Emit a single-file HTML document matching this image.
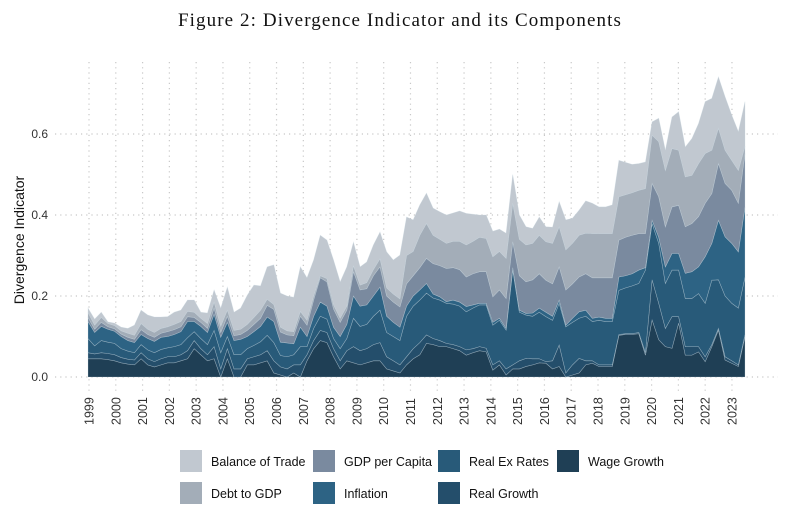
<!DOCTYPE html>
<html><head><meta charset="utf-8"><style>
body{margin:0;background:#fff;width:799px;height:517px;overflow:hidden;font-family:"Liberation Sans",sans-serif;}
</style></head><body>
<svg id="chart" width="799" height="517" xmlns="http://www.w3.org/2000/svg">
<text x="400" y="26" text-anchor="middle" font-family="Liberation Serif, serif" font-size="19" letter-spacing="1.1" fill="#111">Figure 2: Divergence Indicator and its Components</text>
<text transform="translate(24,240) rotate(-90)" text-anchor="middle" font-size="14" fill="#111">Divergence Indicator</text>
<g id="grid"></g><g id="areas"></g><g id="axes"></g><g id="legend"></g>
</svg>
<script>
const years=[1999,2000,2001,2002,2003,2004,2005,2006,2007,2008,2009,2010,2011,2012,2013,2014,2015,2016,2017,2018,2019,2020,2021,2022,2023];
const yTicks=[0,0.2,0.4,0.6];
const yTickLabels=["0.0","0.2","0.4","0.6"];
const seriesNames=["Wage Growth","Real Growth","Real Ex Rates","Inflation","GDP per Capita","Debt to GDP","Balance of Trade"];
const seriesColors=["#1f3f55","#244e6b","#285a79","#2d6384","#7a8a9f","#a3adb8","#c1c8d0"];
const wage=[.045,.045,.045,.043,.04,.035,.032,.03,.045,.03,.025,.03,.035,.035,.04,.045,.07,.055,.04,.045,0,.045,0,0,.03,.03,.035,.04,.01,.005,0,.01,0,.04,.07,.09,.085,.05,.02,.04,.035,.03,.035,.04,.04,.02,.015,.01,.03,.045,.055,.083,.08,.075,.075,.07,.065,.054,.06,.065,.062,.017,.03,.005,.02,.02,.026,.03,.035,.034,.02,.026,0,.005,.01,.03,.034,.026,.026,.026,.103,.105,.105,.107,.054,.141,.092,.075,.071,.133,.054,.054,.062,.038,.075,.116,.042,.034,.026,.10];
const realGrowth=[.015,.012,.015,.015,.015,.013,.012,.012,.015,.015,.013,.015,.015,.015,.015,.02,.02,.015,.015,.03,.02,.025,.02,.02,.015,.02,.02,.025,.03,.02,.02,.02,.03,.015,.02,.025,.025,.02,.02,.025,.04,.035,.035,.04,.045,.03,.025,.02,.02,.025,.03,.021,.015,.015,.008,.01,.01,.013,.01,.01,.009,.013,.01,.015,.01,.02,.02,.015,.01,.004,.02,.053,.01,.025,.036,.01,.006,.004,.004,.004,.002,.002,.002,.003,.006,.099,.09,.045,.078,.016,.021,.021,.013,.012,.005,.004,.008,.006,.004,.005];
const realExRates=[.035,.02,.03,.028,.028,.022,.02,.018,.02,.022,.022,.023,.022,.025,.025,.032,.022,.025,.025,.04,.04,.03,.035,.035,.025,.028,.032,.038,.045,.028,.03,.025,.045,.02,.03,.035,.033,.025,.03,.03,.07,.06,.06,.07,.08,.06,.06,.06,.10,.105,.105,.103,.10,.10,.099,.10,.10,.094,.10,.103,.107,.098,.10,.096,.234,.12,.107,.105,.115,.111,.10,.103,.114,.105,.099,.11,.097,.11,.107,.107,.109,.113,.118,.121,.204,.139,.148,.111,.115,.115,.119,.119,.131,.132,.159,.12,.15,.142,.14,.142];
const inflation=[.042,.033,.035,.032,.03,.03,.026,.025,.025,.028,.028,.03,.028,.03,.032,.04,.025,.03,.03,.04,.038,.035,.035,.038,.03,.034,.038,.045,.052,.033,.034,.027,.048,.025,.03,.035,.032,.028,.03,.035,.055,.05,.048,.05,.057,.04,.035,.033,.025,.025,.025,.024,.01,.008,.004,.01,.01,.013,.008,.004,.004,.007,.005,.004,.006,.005,.004,.008,.01,.011,.01,.008,.004,.01,.016,.015,.008,.008,.008,.008,.033,.03,.03,.033,.006,.008,.015,.041,.041,.041,.062,.066,.066,.115,.091,.147,.146,.148,.139,.173];
const gdpPerCapita=[.01,.008,.01,.006,.006,.006,.008,.008,.012,.01,.01,.01,.012,.012,.012,.012,.01,.01,.01,.015,.012,.015,.012,.012,.015,.018,.02,.029,.03,.025,.02,.02,.027,.028,.04,.06,.06,.045,.035,.035,.06,.04,.04,.05,.05,.05,.05,.05,.055,.05,.055,.062,.075,.077,.082,.08,.08,.073,.077,.078,.078,.063,.07,.074,.064,.085,.078,.082,.085,.079,.08,.082,.087,.085,.086,.09,.10,.097,.10,.10,.091,.095,.095,.09,.084,.091,.10,.099,.115,.119,.115,.119,.124,.132,.123,.14,.132,.131,.12,.132];
const debtToGdp=[.012,.01,.012,.008,.008,.008,.01,.01,.015,.013,.012,.012,.012,.013,.013,.013,.013,.01,.012,.015,.015,.015,.013,.013,.015,.017,.02,.015,.012,.012,.01,.01,.012,.012,.01,.005,.008,.01,.01,.01,.015,.012,.015,.015,.02,.02,.02,.02,.07,.06,.08,.086,.07,.065,.062,.065,.07,.079,.08,.085,.082,.099,.095,.099,.095,.09,.091,.09,.095,.095,.10,.099,.099,.10,.103,.10,.109,.109,.109,.109,.107,.105,.105,.107,.111,.119,.136,.139,.144,.136,.123,.119,.131,.123,.107,.087,.082,.074,.081,.018];
const balanceOfTrade=[.011,.015,.013,.004,.006,.009,.012,.025,.033,.035,.038,.028,.025,.03,.028,.028,.03,.015,.026,.03,.045,.057,.045,.052,.072,.08,.06,.08,.098,.084,.086,.085,.11,.105,.089,.10,.095,.111,.09,.097,.058,.045,.051,.061,.066,.089,.084,.108,.095,.078,.075,.075,.067,.068,.07,.07,.075,.078,.067,.055,.058,.063,.055,.062,.071,.06,.045,.037,.045,.037,.04,.062,.074,.062,.062,.08,.075,.066,.066,.071,.09,.08,.07,.066,.066,.033,.058,.05,.078,.095,.074,.091,.099,.128,.128,.127,.132,.112,.096,.11];
const series=[wage,realGrowth,realExRates,inflation,gdpPerCapita,debtToGdp,balanceOfTrade];
const seriesKeys=["wage-growth","real-growth","real-ex-rates","inflation","gdp-per-capita","debt-to-gdp","balance-of-trade"];
const NS="http://www.w3.org/2000/svg";
const X0=88,X1=745,Y0=377,YS=405;
const n=wage.length;
function xIdx(i){return X0+(X1-X0)*i/(n-1);}
function xYear(y){return 89+(y-1999)*26.79;}
function yv(v){return Y0-v*YS;}
function mk(t,a,p){const e=document.createElementNS(NS,t);for(const k in a)e.setAttribute(k,a[k]);p.appendChild(e);return e;}
const grid=document.getElementById('grid'),areas=document.getElementById('areas'),axes=document.getElementById('axes'),legend=document.getElementById('legend');
yTicks.forEach((t,k)=>{
  const l=mk('line',{x1:55,x2:778,y1:yv(t),y2:yv(t),stroke:'#c8c8c8','stroke-width':1.2,'stroke-dasharray':'1.2 4'},grid);
  
  
  const tx=mk('text',{x:48,y:yv(t)+4,'text-anchor':'end','font-size':12,fill:'#333'},axes);
  tx.textContent=yTickLabels[k];
  
  
});
years.forEach(y=>{
  const l=mk('line',{x1:xYear(y),x2:xYear(y),y1:62,y2:392,stroke:'#c8c8c8','stroke-width':1.2,'stroke-dasharray':'1.2 4'},grid);
  
  
  const tx=mk('text',{transform:`translate(${xYear(y)+4.5},425) rotate(-90)`,'font-size':12.5,fill:'#333'},axes);
  tx.textContent=y;
  
  
});
const cum=new Array(n).fill(0);
series.forEach((s,k)=>{
  const lower=cum.slice();
  for(let i=0;i<n;i++)cum[i]+=s[i];
  let d='M'+xIdx(0)+','+yv(cum[0]);
  for(let i=1;i<n;i++)d+='L'+xIdx(i)+','+yv(cum[i]);
  for(let i=n-1;i>=0;i--)d+='L'+xIdx(i)+','+yv(lower[i]);
  d+='Z';
  const p=mk('path',{d:d,fill:seriesColors[k],stroke:'rgba(200,215,225,0.45)','stroke-width':0.6},areas);
  
  
});
const legOrder=[6,4,2,0,5,3,1];
const legX=[180,313,438,557];
legOrder.forEach((k,j)=>{
  const col=j<4?j:j-4,row=j<4?0:1;
  const g=mk('g',{},legend);
  
  
  mk('rect',{x:legX[col],y:450+row*32,width:22,height:22,fill:seriesColors[k]},g);
  const t=mk('text',{x:legX[col]+31,y:466+row*32,'font-size':12.5,fill:'#111'},g);
  t.textContent=seriesNames[k];
});
</script>
</body></html>
